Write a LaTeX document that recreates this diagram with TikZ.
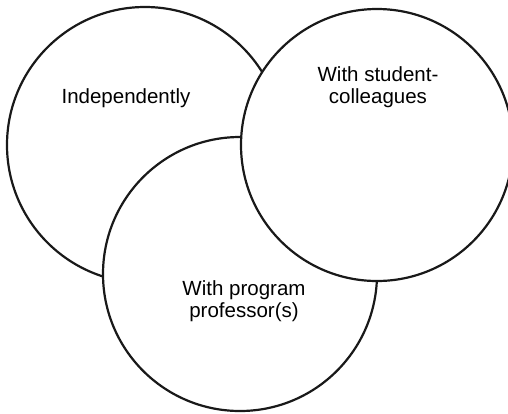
\documentclass[tikz,border=0pt]{standalone}
\usepackage{fontspec}
\setmainfont{Liberation Sans}
\begin{document}
\begin{tikzpicture}[x=1pt,y=-1pt,
  ring/.style={draw=black!90, line width=2.2pt, fill=white},
  lbl/.style={anchor=base, align=center, font=\fontsize{20.5}{21.5}\selectfont, inner sep=0pt}]
\clip (0,0) rectangle (508,413);
\useasboundingbox (0,0) rectangle (508,413);
\fill[white] (0,0) rectangle (508,413);
\node[ring, circle, minimum size=276pt, inner sep=0pt] (indep) at (145,145) {};
\node[ring, circle, minimum size=274pt, inner sep=0pt] (prof) at (240,274) {};
\node[ring, circle, minimum size=272pt, inner sep=0pt] (coll) at (377,145) {};
\node[lbl] (t1) at (126,103) {Independently};
\node[lbl, anchor=base] (t2) at (378,103) {With student-\\colleagues};
\node[lbl, anchor=base] (t3) at (244,317) {With program\\professor(s)};
\end{tikzpicture}
\end{document}
